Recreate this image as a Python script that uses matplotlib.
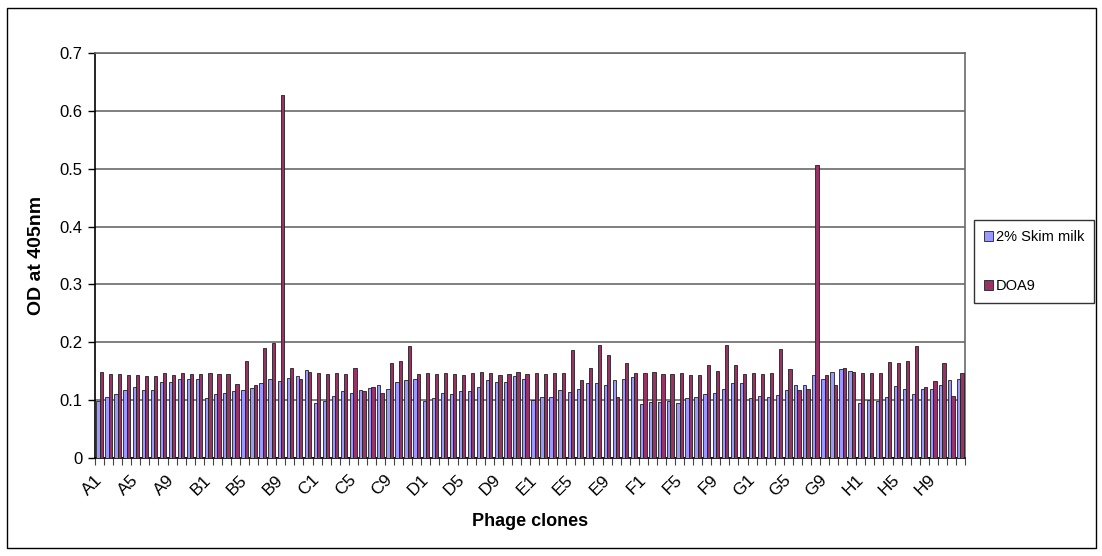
import matplotlib
matplotlib.use("Agg")
import matplotlib.pyplot as plt
import numpy as np
from matplotlib.patches import Rectangle

plt.rcParams['font.family'] = ['Liberation Sans', 'DejaVu Sans']

# clone names A1..H12, every 4th one gets a label
rows = ['A', 'B', 'C', 'D', 'E', 'F', 'G', 'H']
clones = [r + str(n) for r in rows for n in range(1, 13)]

skim_milk = [
    0.099, 0.106, 0.111, 0.118, 0.122, 0.118, 0.118, 0.132, 0.132, 0.136, 0.137, 0.136,
    0.103, 0.110, 0.113, 0.116, 0.118, 0.121, 0.130, 0.136, 0.133, 0.139, 0.141, 0.152,
    0.095, 0.099, 0.107, 0.116, 0.113, 0.117, 0.121, 0.127, 0.120, 0.132, 0.134, 0.137,
    0.099, 0.104, 0.113, 0.110, 0.116, 0.116, 0.123, 0.134, 0.132, 0.132, 0.141, 0.137,
    0.101, 0.106, 0.106, 0.117, 0.114, 0.120, 0.129, 0.130, 0.126, 0.134, 0.137, 0.140,
    0.094, 0.097, 0.097, 0.099, 0.095, 0.103, 0.105, 0.111, 0.113, 0.119, 0.130, 0.130,
    0.103, 0.107, 0.106, 0.109, 0.117, 0.126, 0.126, 0.143, 0.137, 0.149, 0.153, 0.150,
    0.095, 0.100, 0.099, 0.106, 0.125, 0.119, 0.111, 0.120, 0.119, 0.127, 0.134, 0.137,
]

doa9 = [
    0.149, 0.145, 0.145, 0.143, 0.143, 0.141, 0.141, 0.147, 0.143, 0.147, 0.145, 0.145,
    0.147, 0.145, 0.145, 0.128, 0.168, 0.126, 0.190, 0.199, 0.627, 0.155, 0.137, 0.148,
    0.147, 0.145, 0.147, 0.145, 0.155, 0.116, 0.123, 0.112, 0.164, 0.168, 0.193, 0.145,
    0.147, 0.145, 0.147, 0.145, 0.143, 0.147, 0.149, 0.147, 0.143, 0.145, 0.149, 0.145,
    0.147, 0.145, 0.147, 0.147, 0.187, 0.134, 0.156, 0.196, 0.178, 0.105, 0.164, 0.147,
    0.147, 0.149, 0.145, 0.145, 0.147, 0.143, 0.143, 0.160, 0.150, 0.196, 0.160, 0.145,
    0.147, 0.145, 0.147, 0.189, 0.153, 0.118, 0.120, 0.506, 0.143, 0.127, 0.155, 0.148,
    0.147, 0.147, 0.147, 0.166, 0.164, 0.168, 0.194, 0.123, 0.133, 0.164, 0.107, 0.147,
]

y_ticks = [0, 0.1, 0.2, 0.3, 0.4, 0.5, 0.6, 0.7]
y_tick_labels = ['0', '0.1', '0.2', '0.3', '0.4', '0.5', '0.6', '0.7']

fig = plt.figure(figsize=(11.02, 5.56), dpi=100)
ax = fig.add_axes([95 / 1102, 1 - 458 / 556, 870 / 1102, 405 / 556])

idx = np.arange(len(clones))
w = 0.36
ax.bar(idx - w / 2, skim_milk, w, color='#9999FF', edgecolor='#202020', linewidth=0.6,
       label='2% Skim milk', zorder=3)
ax.bar(idx + w / 2, doa9, w, color='#993366', edgecolor='#202020', linewidth=0.6,
       label='DOA9', zorder=3)

ax.set_xlim(-0.5, len(clones) - 0.5)
ax.set_ylim(0, 0.7)
ax.set_yticks(y_ticks)
ax.set_yticklabels(y_tick_labels, fontsize=12)
ax.yaxis.grid(True, color='#6a6a6a', linewidth=1.2, zorder=0)
ax.tick_params(axis='y', length=5, width=1, pad=4)

# tick marks between categories, labels on the centres of every 4th clone
ax.set_xticks(np.arange(-0.5, len(clones), 1))
ax.set_xticklabels([])
ax.tick_params(axis='x', which='major', length=5, width=0.8, color='#444444')
ax.set_xticks(idx[::4], minor=True)
ax.set_xticklabels(clones[::4], minor=True, rotation=45, ha='right', va='center',
                   rotation_mode='anchor', fontsize=12.5)
ax.tick_params(axis='x', which='minor', length=0, pad=14)

for s in ['left', 'bottom']:
    ax.spines[s].set_color('black')
    ax.spines[s].set_linewidth(1.2)
for s in ['right', 'top']:
    ax.spines[s].set_color('#6a6a6a')
    ax.spines[s].set_linewidth(1.2)

ax.set_ylabel('OD at 405nm', fontsize=14, fontweight='bold', labelpad=10)
ax.set_xlabel('Phage clones', fontsize=13, fontweight='bold', labelpad=10)

leg = fig.legend(loc='upper left', bbox_to_anchor=(974 / 1102, 1 - 220 / 556),
                 fontsize=10.5, frameon=True, fancybox=False, edgecolor='black',
                 handlelength=0.6, handleheight=0.6, handletextpad=0.2,
                 labelspacing=2.4, borderpad=0.7, borderaxespad=0)
leg.get_frame().set_linewidth(1.0)

# outer chart border
fig.patches.append(Rectangle((7 / 1102, 8 / 556), 1089 / 1102, 540 / 556,
                             transform=fig.transFigure, fill=False,
                             edgecolor='black', linewidth=1.0))

plt.savefig('out.png', dpi=100)
